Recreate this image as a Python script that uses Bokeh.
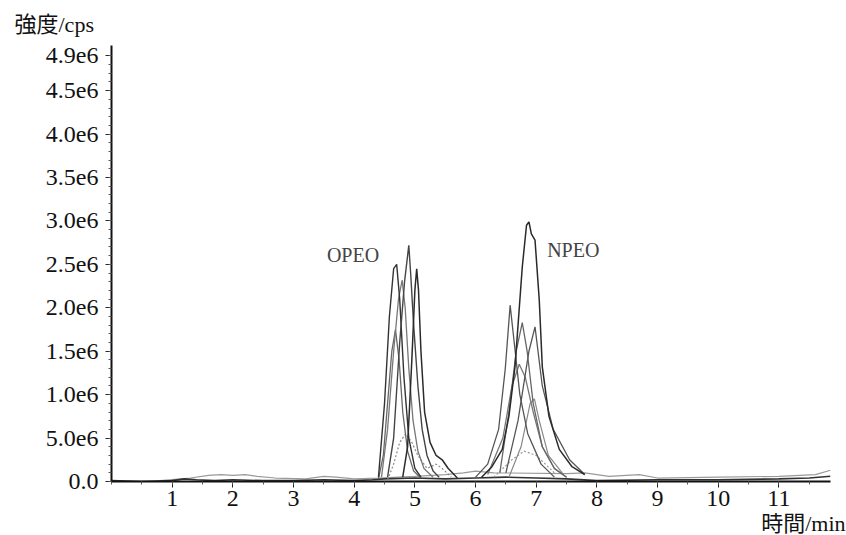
from bokeh.plotting import figure
from bokeh.models import Range1d, FixedTicker, Label, Title
from bokeh.core.properties import value
from bokeh.embed import file_html
from bokeh.resources import INLINE

# ---- data (time in min, intensity in 1e6 cps) ----
Y_TICKS = [0, 0.5, 1.0, 1.5, 2.0, 2.5, 3.0, 3.5, 4.0, 4.5, 4.9]
Y_TICK_LABELS = ["0.0", "5.0e6", "1.0e6", "1.5e6", "2.0e6", "2.5e6",
                 "3.0e6", "3.5e6", "4.0e6", "4.5e6", "4.9e6"]
X_TICKS = [1, 2, 3, 4, 5, 6, 7, 8, 9, 10, 11]

BASE1_T = [0.0, 0.5, 1.0, 1.2, 1.4, 1.7, 2.0, 2.5, 3.0, 3.5, 4.0, 4.3, 4.5, 5.0, 5.5, 6.0, 6.5, 7.0, 7.5, 8.0, 9.0, 10.0, 11.0, 11.5, 11.85]
BASE1_I = [0.01, 0.0, 0.01, 0.03, 0.02, 0.01, 0.02, 0.01, 0.01, 0.02, 0.01, 0.02, 0.03, 0.04, 0.03, 0.04, 0.05, 0.04, 0.03, 0.01, 0.02, 0.02, 0.03, 0.04, 0.06]
BASE2_T = [0.8, 1.3, 1.6, 1.8, 2.0, 2.2, 2.4, 2.7, 3.2, 3.5, 3.7, 4.0, 4.4, 5.0, 5.5, 5.8, 6.0, 6.3, 7.5, 7.8, 8.2, 8.7, 9.0, 10.0, 11.0, 11.6, 11.85]
BASE2_I = [0.01, 0.04, 0.07, 0.08, 0.07, 0.08, 0.06, 0.04, 0.03, 0.06, 0.05, 0.03, 0.04, 0.06, 0.08, 0.1, 0.12, 0.1, 0.09, 0.1, 0.06, 0.08, 0.04, 0.05, 0.06, 0.08, 0.13]

OPEO_A_T = [4.40, 4.50, 4.58, 4.65, 4.70, 4.75, 4.82, 4.90, 5.00, 5.10]
OPEO_A_I = [0.05, 0.9, 1.9, 2.45, 2.5, 2.1, 1.2, 0.5, 0.15, 0.05]
OPEO_B_T = [4.55, 4.65, 4.75, 4.83, 4.88, 4.90, 4.93, 4.98, 5.05, 5.12, 5.20, 5.30, 5.40]
OPEO_B_I = [0.05, 0.5, 1.6, 2.3, 2.6, 2.72, 2.4, 1.8, 1.1, 0.6, 0.3, 0.12, 0.05]
OPEO_C_T = [4.80, 4.88, 4.95, 5.00, 5.03, 5.06, 5.10, 5.16, 5.25, 5.35, 5.45, 5.55, 5.70]
OPEO_C_I = [0.05, 0.4, 1.4, 2.2, 2.45, 2.2, 1.5, 0.8, 0.45, 0.3, 0.25, 0.15, 0.04]
OPEO_D_T = [4.45, 4.55, 4.65, 4.73, 4.79, 4.84, 4.90, 4.97, 5.05, 5.15, 5.30]
OPEO_D_I = [0.05, 0.6, 1.5, 2.1, 2.32, 2.0, 1.3, 0.7, 0.35, 0.15, 0.05]
OPEO_E_T = [4.40, 4.48, 4.55, 4.62, 4.68, 4.74, 4.80, 4.88, 4.98, 5.10]
OPEO_E_I = [0.03, 0.3, 0.9, 1.5, 1.75, 1.4, 0.8, 0.35, 0.12, 0.04]
OPEO_F_T = [4.55, 4.65, 4.75, 4.85, 4.95, 5.05, 5.20, 5.35, 5.45, 5.60]
OPEO_F_I = [0.02, 0.2, 0.45, 0.55, 0.45, 0.3, 0.15, 0.2, 0.15, 0.05]

NPEO_A_T = [6.10, 6.27, 6.44, 6.55, 6.65, 6.77, 6.84, 6.88, 6.92, 6.98, 7.05, 7.10, 7.21, 7.38, 7.59, 7.80]
NPEO_A_I = [0.05, 0.17, 0.37, 0.75, 1.32, 2.47, 2.95, 2.99, 2.85, 2.78, 2.09, 1.32, 0.75, 0.37, 0.17, 0.08]
NPEO_B_T = [6.00, 6.20, 6.38, 6.49, 6.57, 6.65, 6.73, 6.86, 7.08, 7.30]
NPEO_B_I = [0.05, 0.2, 0.6, 1.3, 2.03, 1.52, 1.0, 0.55, 0.2, 0.05]
NPEO_C_T = [6.40, 6.55, 6.67, 6.77, 6.85, 6.95, 7.10, 7.30, 7.50]
NPEO_C_I = [0.1, 0.8, 1.5, 1.83, 1.5, 0.9, 0.4, 0.15, 0.05]
NPEO_D_T = [6.50, 6.70, 6.88, 6.98, 7.10, 7.28, 7.55, 7.80]
NPEO_D_I = [0.1, 0.7, 1.5, 1.78, 1.1, 0.6, 0.25, 0.08]
NPEO_E_T = [6.20, 6.45, 6.60, 6.72, 6.82, 6.95, 7.10, 7.30, 7.50]
NPEO_E_I = [0.08, 0.5, 1.1, 1.35, 1.2, 0.8, 0.4, 0.15, 0.05]
NPEO_F_T = [6.55, 6.75, 6.90, 6.97, 7.05, 7.20, 7.45]
NPEO_F_I = [0.05, 0.4, 0.9, 0.95, 0.7, 0.3, 0.08]
NPEO_G_T = [6.30, 6.60, 6.80, 7.00, 7.30]
NPEO_G_I = [0.05, 0.25, 0.35, 0.3, 0.1]

TRACES = [
    (BASE2_T, BASE2_I, "#9a9a9a", 1.2, "solid"),
    (BASE1_T, BASE1_I, "#333333", 1.6, "solid"),
    (OPEO_F_T, OPEO_F_I, "#888888", 1.2, "2 2"),
    (OPEO_E_T, OPEO_E_I, "#666666", 1.3, "solid"),
    (OPEO_D_T, OPEO_D_I, "#777777", 1.3, "solid"),
    (OPEO_A_T, OPEO_A_I, "#333333", 1.4, "solid"),
    (OPEO_B_T, OPEO_B_I, "#444444", 1.4, "solid"),
    (OPEO_C_T, OPEO_C_I, "#2a2a2a", 1.5, "solid"),
    (NPEO_G_T, NPEO_G_I, "#999999", 1.2, "2 2"),
    (NPEO_F_T, NPEO_F_I, "#888888", 1.2, "solid"),
    (NPEO_E_T, NPEO_E_I, "#777777", 1.3, "solid"),
    (NPEO_D_T, NPEO_D_I, "#555555", 1.3, "solid"),
    (NPEO_C_T, NPEO_C_I, "#666666", 1.3, "solid"),
    (NPEO_B_T, NPEO_B_I, "#555555", 1.3, "solid"),
    (NPEO_A_T, NPEO_A_I, "#2a2a2a", 1.5, "solid"),
]

SERIF = "'Liberation Serif', 'Noto Sans CJK JP', serif"

p = figure(width=846, height=535, output_backend="svg", toolbar_location=None,
           x_range=Range1d(0, 11.85), y_range=Range1d(0, 5.02),
           min_border_left=111, min_border_right=16, min_border_top=45, min_border_bottom=53)
p.outline_line_color = None
p.xgrid.grid_line_color = None
p.ygrid.grid_line_color = None

for t, i, c, w, d in TRACES:
    p.line(t, i, line_color=c, line_width=w, line_dash=d)

# axes
p.yaxis.ticker = FixedTicker(ticks=Y_TICKS, minor_ticks=[k / 10 for k in range(0, 50)])
p.yaxis.major_label_overrides = {k: v for k, v in zip(Y_TICKS, Y_TICK_LABELS)}
p.xaxis.ticker = FixedTicker(ticks=X_TICKS, minor_ticks=[k / 2 for k in range(0, 24)])
for ax in (p.xaxis[0], p.yaxis[0]):
    ax.axis_line_color = "#111111"
    ax.axis_line_width = 2
    ax.major_tick_line_color = "#222222"
    ax.minor_tick_line_color = "#555555"
    ax.major_tick_in = 0
    ax.major_tick_out = 6
    ax.minor_tick_in = 0
    ax.minor_tick_out = 3
    ax.major_label_text_font = SERIF
    ax.major_label_text_font_size = "24px"
    ax.major_label_text_color = "#111111"
p.yaxis.major_label_standoff = 7
p.xaxis.major_label_standoff = 3

top_title = Title(text="強度/cps", align="left", offset=-97, standoff=18,
                  text_font=SERIF, text_font_size="22px", text_font_style="normal",
                  text_color="#111111")
p.add_layout(top_title, "above")
bottom_title = Title(text="時間/min", align="right", offset=-15, standoff=0,
                     text_font=SERIF, text_font_size="22px", text_font_style="normal",
                     text_color="#111111")
p.add_layout(bottom_title, "below")

p.add_layout(Label(x=3.55, y=2.61, text="OPEO", text_font=SERIF, text_font_size="20px",
                   text_baseline="middle", text_color="#444444"))
p.add_layout(Label(x=7.18, y=2.67, text="NPEO", text_font=SERIF, text_font_size="20px",
                   text_baseline="middle", text_color="#444444"))

open("out.html", "w").write(file_html(p, INLINE))
